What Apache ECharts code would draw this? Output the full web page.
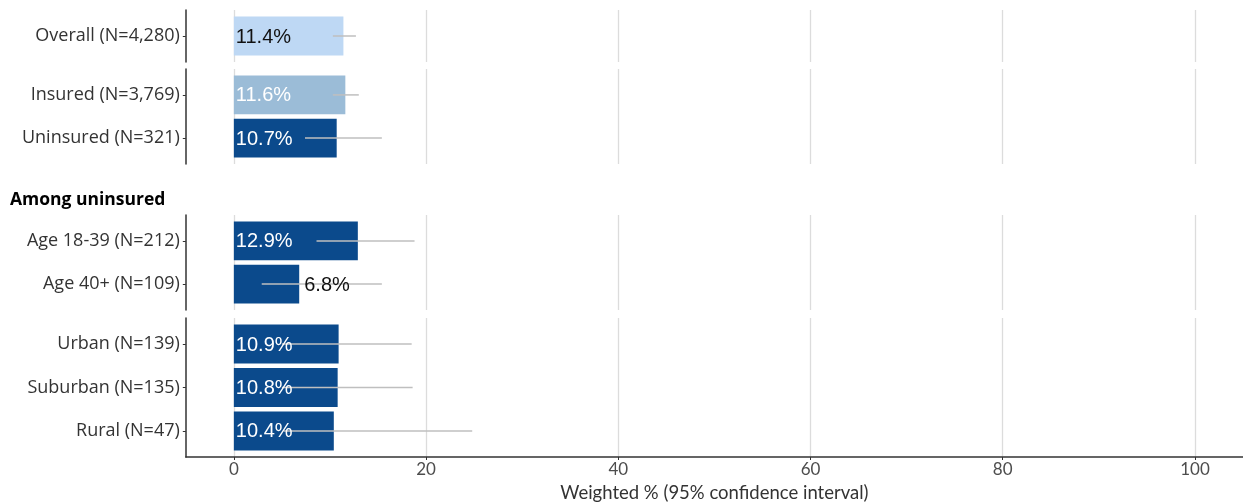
<!DOCTYPE html>
<html>
<head>
<meta charset="utf-8">
<script src="https://cdn.jsdelivr.net/npm/echarts@6/dist/echarts.min.js"></script>
<style>
  html, body { margin: 0; padding: 0; background: #fff; }
  #chart { width: 1243px; height: 504px; }
</style>
</head>
<body>
<div id="chart"></div>
<script>
// Survey estimates: weighted percent with 95% confidence interval
const categories = [
  'Overall (N=4,280)',
  'Insured (N=3,769)',
  'Uninsured (N=321)',
  'Age 18-39 (N=212)',
  'Age 40+ (N=109)',
  'Urban (N=139)',
  'Suburban (N=135)',
  'Rural (N=47)'
];
const values = [11.4, 11.6, 10.7, 12.9, 6.8, 10.9, 10.8, 10.4];
const ciLow  = [10.3, 10.3, 7.4, 8.6, 2.9, 5.0, 5.0, 5.2];
const ciHigh = [12.7, 13.0, 15.4, 18.8, 15.4, 18.5, 18.6, 24.8];
// which panel each row sits in
const panelOf = [0, 1, 1, 2, 2, 3, 3, 3];
const xTicks = [0, 20, 40, 60, 80, 100];
const xTitle = 'Weighted % (95% confidence interval)';
const sectionHeader = 'Among uninsured';

// Styling
const barFill  = ['#bed8f4', '#9bbcd7', '#0b4a8c', '#0b4a8c', '#0b4a8c', '#0b4a8c', '#0b4a8c', '#0b4a8c'];
const textFill = ['#111', '#fff', '#fff', '#fff', '#fff', '#fff', '#fff', '#fff'];
const panelTop = [10, 69, 215, 318];
const panelHeight = [52, 95, 95, 140];
const labelFont = '"Open Sans", "Noto Sans", sans-serif';
const tickFont = 'Lato, "Noto Sans", sans-serif';
const axisDark = '#333';

const nPanels = panelTop.length;
const panelRows = [];
for (let p = 0; p < nPanels; p++) panelRows.push([]);
categories.forEach((c, i) => panelRows[panelOf[i]].push(i));

const grids = [], xAxes = [], yAxes = [], series = [];
for (let p = 0; p < nPanels; p++) {
  const rows = panelRows[p];
  const last = p === nPanels - 1;
  grids.push({ left: 185.8, right: -3.2, top: panelTop[p], height: panelHeight[p] });
  xAxes.push({
    type: 'value', gridIndex: p, min: -5, max: 105,
    axisLine: { show: last, onZero: false, lineStyle: { color: axisDark, width: 1.5 } },
    axisTick: { show: last, customValues: xTicks, length: 3, lineStyle: { color: axisDark, width: 1 } },
    axisLabel: { show: last, customValues: xTicks, color: '#4d4d4d', fontFamily: tickFont, fontSize: 17, margin: 4 },
    splitLine: { show: true, lineStyle: { color: '#dcdcdc', width: 1.3 } },
    name: last ? xTitle : '', nameLocation: 'middle', nameGap: 27,
    nameTextStyle: { color: '#333', fontFamily: tickFont, fontSize: 18.5 }
  });
  const rowIdx = rows.map((r, k) => k);
  yAxes.push({
    type: 'value', gridIndex: p, inverse: true, min: -0.6, max: rows.length - 0.4,
    axisLine: { show: true, onZero: false, lineStyle: { color: axisDark, width: 1.5 } },
    axisTick: { show: true, customValues: rowIdx, length: 3, lineStyle: { color: axisDark } },
    axisLabel: {
      show: true, customValues: rowIdx, margin: 6, color: '#333', fontFamily: labelFont, fontSize: 18,
      formatter: v => categories[rows[Math.round(v)]]
    },
    splitLine: { show: false }
  });
  series.push({
    type: 'custom', coordinateSystem: 'cartesian2d', xAxisIndex: p, yAxisIndex: p,
    data: rows.map((r, k) => [values[r], k, ciLow[r], ciHigh[r], r]),
    renderItem: (params, api) => {
      const v = api.value(0), pos = api.value(1), lo = api.value(2), hi = api.value(3), r = api.value(4);
      const s = api.coord([0, pos]);
      const e = api.coord([v, pos]);
      const h = api.size([0, 0.9])[1];
      const a = api.coord([lo, pos]);
      const b = api.coord([hi, pos]);
      const inside = v >= 8;
      return {
        type: 'group',
        children: [
          { type: 'rect', shape: { x: s[0], y: s[1] - h / 2, width: e[0] - s[0], height: h },
            style: { fill: barFill[r] } },
          { type: 'line', shape: { x1: a[0], y1: a[1], x2: b[0], y2: b[1] },
            style: { stroke: '#bfbfbf', lineWidth: 1.5 } },
          { type: 'text', x: inside ? s[0] + 2 : e[0] + 5, y: s[1] + 1,
            style: { text: v.toFixed(1) + '%', fill: inside ? textFill[r] : '#111',
                     fontSize: 20, fontFamily: '"Liberation Sans", Arial, sans-serif',
                     align: 'left', verticalAlign: 'middle' } }
        ]
      };
    }
  });
}

const chart = echarts.init(document.getElementById('chart'), null, { renderer: 'canvas' });
chart.setOption({
  animation: false,
  backgroundColor: '#fff',
  grid: grids,
  xAxis: xAxes,
  yAxis: yAxes,
  series: series,
  graphic: [{
    type: 'text', left: 10, top: 191,
    style: { text: sectionHeader, fill: '#000', fontFamily: labelFont, fontSize: 17.5, fontWeight: 'bold' }
  }]
});
</script>
</body>
</html>
